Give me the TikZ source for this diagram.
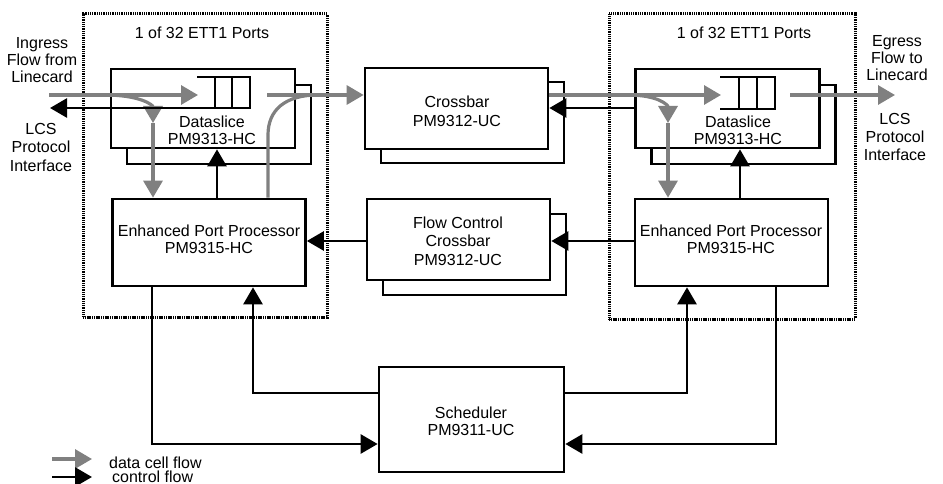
\documentclass[tikz,border=0pt]{standalone}
\usepackage{fontspec}
\setmainfont{Liberation Sans}
\usetikzlibrary{arrows.meta,calc}
\definecolor{flowgray}{HTML}{808080}
\begin{document}
\begin{tikzpicture}[x=1pt,y=-1pt,
  box/.style={draw=black, line width=2.7pt, fill=white, inner sep=0pt},
  dsbox/.style={box, minimum width=184pt, minimum height=79pt},
  xbbox/.style={box, minimum width=183pt, minimum height=81pt},
  eppbox/.style={box, minimum width=193pt, minimum height=87pt},
  port/.style={draw=black, line width=3pt, dash pattern=on 1.1pt off 0.7pt, inner sep=0pt},
  lbl/.style={font=\fontsize{16}{17}\selectfont, align=center, inner sep=0pt},
  gline/.style={draw=flowgray, line width=3.2pt},
  bline/.style={draw=black, line width=2.7pt},
  tipA/.style={-{Triangle[length=17pt,width=19pt]}}
]
\useasboundingbox (0,0) rectangle (943,484);

% port frames
\node[port, minimum width=244pt, minimum height=303pt] (portL) at (205,165.5) {};
\node[port, minimum width=246pt, minimum height=305pt] (portR) at (732,166.5) {};
\node[lbl] (titleL) at (202,33) {1 of 32 ETT1 Ports};
\node[lbl] (titleR) at (744,33) {1 of 32 ETT1 Ports};

% boxes
\node[dsbox] (dsLb) at (219,124.5) {};
\node[dsbox] (dsL) at (203,108.5) {};
\node[dsbox] (dsRb) at (743.5,124.5) {};
\node[dsbox] (dsR) at (727.5,108.5) {};
\node[xbbox] (xbarb) at (472.5,122.5) {};
\node[xbbox] (xbar) at (456.5,108.5) {};
\node[xbbox] (fcb) at (474.5,254.5) {};
\node[xbbox] (fc) at (458.5,239.5) {};
\node[eppbox] (eppL) at (209,242.5) {};
\node[eppbox] (eppR) at (731.5,242.5) {};
\node[box, minimum width=185pt, minimum height=105pt] (sch) at (471.5,419.5) {};

% labels
\node[lbl] (dsLt) at (212,130) {Dataslice\\PM9313-HC};
\node[lbl] (dsRt) at (738,130) {Dataslice\\PM9313-HC};
\node[lbl, font=\fontsize{16}{19}\selectfont] (xbarT) at (457,111.5) {Crossbar\\PM9312-UC};
\node[lbl, font=\fontsize{16}{18.5}\selectfont] (fcT) at (458,241) {Flow Control\\Crossbar\\PM9312-UC};
\node[lbl] (eppLT) at (209,239.5) {Enhanced Port Processor\\PM9315-HC};
\node[lbl] (eppRT) at (731,239.5) {Enhanced Port Processor\\PM9315-HC};
\node[lbl] (schT) at (471,421.5) {Scheduler\\PM9311-UC};
\node[lbl] (ingT) at (42,60) {Ingress\\Flow from\\Linecard};
\node[lbl, font=\fontsize{16}{18.5}\selectfont] (lcsLT) at (41,147) {LCS\\Protocol\\Interface};
\node[lbl] (egrT) at (897,58.5) {Egress\\Flow to\\Linecard};
\node[lbl, font=\fontsize{16}{18}\selectfont] (lcsRT) at (895,136.5) {LCS\\Protocol\\Interface};

% queues
\draw[bline] (197,77) -- (250,77) -- (250,108) -- (197,108) (215,77) -- (215,108) (232,77) -- (232,108);
\draw[bline] (720,77) -- (775,77) -- (775,109) -- (720,109) (739,77) -- (739,109) (757,77) -- (757,109);

% helper coordinates
\coordinate (xb1) at (217,0);
\coordinate (xg2) at (268,0);
\coordinate (xb2) at (740,0);
\coordinate (xbL1) at (152,0);
\coordinate (xbL2) at (253,0);
\coordinate (xbR1) at (687,0);
\coordinate (xbR2) at (776,0);
\coordinate (yD) at (0,95);
\coordinate (yC) at (0,108);
\coordinate (yF) at (0,241);
\coordinate (yS1) at (0,393);
\coordinate (yS2) at (0,444);
\coordinate (inL) at (49,95);
\coordinate (qL) at (198,95);
\coordinate (qLb) at (197,108);
\coordinate (lcsL) at (50,108);
\coordinate (brL) at (105,95);
\coordinate (midL) at (153,123);
\coordinate (bendL) at (268,135);
\coordinate (joinL) at (318,95);
\coordinate (outL) at (267,95);
\coordinate (qR) at (721,95);
\coordinate (brR) at (628,95);
\coordinate (midR) at (668,123);
\coordinate (outR) at (790,95);
\coordinate (egr) at (895,95);

% data (gray) flows
\draw[gline,tipA] (inL) -- (qL);
\draw[gline,tipA] (brL) .. controls (140,95) and (153,105) .. (midL);
\draw[gline,tipA] (midL) -- (eppL.north -| midL);
\draw[gline] (eppL.north -| xg2) -- (bendL) .. controls (268,110) and (285,95) .. (joinL);
\draw[gline,tipA] (outL) -- (xbar.west |- outL);
\draw[gline,tipA] (xbar.east |- yD) -- (qR);
\draw[gline,tipA] (brR) .. controls (658,95) and (668,105) .. (midR);
\draw[gline,tipA] (midR) -- (eppR.north -| midR);
\draw[gline,tipA] (outR) -- (egr);

% control (black) flows
\draw[bline,tipA] (qLb) -- (lcsL);
\draw[bline,tipA] (eppL.north -| xb1) -- (dsL.south -| xb1);
\draw[bline,tipA] (dsR.west |- yC) -- (xbar.east |- yC);
\draw[bline,tipA] (eppR.north -| xb2) -- (dsR.south -| xb2);
\draw[bline,tipA] (fc.west |- yF) -- (eppL.east |- yF);
\draw[bline,tipA] (eppR.west |- yF) -- (fc.east |- yF);
\draw[bline,tipA] (eppL.south -| xbL1) -- (xbL1 |- yS2) -- (sch.west |- yS2);
\draw[bline,tipA] (sch.west |- yS1) -- (xbL2 |- yS1) -- (eppL.south -| xbL2);
\draw[bline,tipA] (sch.east |- yS1) -- (xbR1 |- yS1) -- (eppR.south -| xbR1);
\draw[bline,tipA] (eppR.south -| xbR2) -- (xbR2 |- yS2) -- (sch.east |- yS2);

% legend
\coordinate (lg1) at (52,459);
\coordinate (lg2) at (92,459);
\coordinate (lb1) at (52,477);
\coordinate (lb2) at (92,477);
\draw[gline,tipA] (lg1) -- (lg2);
\draw[bline,tipA] (lb1) -- (lb2);
\node[lbl, anchor=base west] (lgT1) at (109,468) {data cell flow};
\node[lbl, anchor=base west] (lgT2) at (112,482.5) {control flow};
\end{tikzpicture}
\end{document}
